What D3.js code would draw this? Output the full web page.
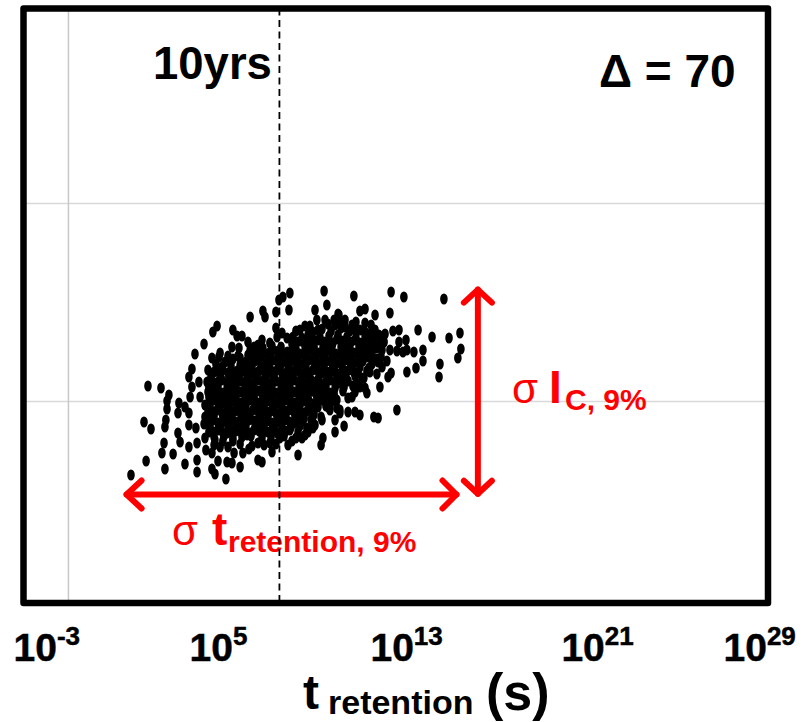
<!DOCTYPE html>
<html>
<head>
<meta charset="utf-8">
<script src="https://cdn.jsdelivr.net/npm/d3@7"></script>
<style>
  body { margin: 0; background: #fff; }
  svg { display: block; }
  text { font-family: "Liberation Sans", Arial, sans-serif; font-weight: bold; }
</style>
</head>
<body>
<div id="content"></div>
<script>
// log10(t_retention) of every cell
const logRetention = [
  1.62,2.35,2.91,3.25,3.17,3.17,2.18,2.48,3.12,3.08,
  3.04,2.95,2.27,3.08,3.43,3.94,4.46,4.46,4.46,4.41,
  4.11,3.64,3.73,4.11,3.68,3.64,3.94,4.11,4.16,4.24,
  4.11,4.24,4.54,4.59,4.37,4.76,5.14,5.32,5.10,4.93,
  5.45,5.96,6.26,6.00,6.18,6.39,6.74,7.29,7.38,7.85,
  7.98,8.15,8.45,8.41,6.65,6.65,6.00,5.10,5.23,5.70,
  5.36,5.75,5.96,6.31,5.10,4.84,7.08,7.25,7.68,8.37,
  8.80,6.43,6.69,6.05,9.92,11.20,12.80,13.35,15.07,10.04,
  9.53,11.46,11.68,12.11,12.75,10.56,11.29,11.68,11.94,12.88,
  13.14,13.96,14.56,15.29,15.76,15.80,15.67,14.90,14.86,14.17,
  14.17,13.87,13.48,13.78,13.44,13.14,13.05,13.31,13.48,12.75,
  12.41,12.28,12.54,12.62,12.41,12.80,12.67,12.19,12.32,11.76,
  13.05,12.24,12.06,11.46,11.25,10.95,10.47,10.60,10.78,10.39,
  10.39,9.87,9.79,9.79,9.44,9.23,8.97,10.09,10.47,11.12,
  11.46,11.68,8.71,9.10,9.31,9.61,10.52,10.35,10.82,8.33,
  7.08,7.59,7.90,8.11,7.85,6.74,6.31,6.61,4.89,
  9.44,9.83,10.22,10.65,11.03,11.46,11.89,
  7.25,8.54,8.93,9.31,9.70,10.09,10.47,10.86,11.25,11.63,12.02,12.41,
  5.79,7.00,7.34,7.72,8.11,8.50,8.88,9.27,9.66,10.04,10.43,10.82,11.20,11.59,11.98,12.37,
  5.27,5.66,6.31,6.56,6.95,7.34,7.72,8.11,8.50,8.88,9.27,9.66,10.04,10.43,10.82,11.20,11.59,11.98,
  5.19,5.57,5.96,6.35,6.74,7.12,7.51,7.90,8.28,8.67,9.06,9.44,9.83,10.22,10.60,10.99,11.38,11.76,
  5.14,5.53,5.92,6.31,6.69,7.08,7.47,7.85,8.24,8.63,9.01,9.40,9.79,10.17,10.56,10.95,11.33,
  4.93,5.32,5.70,6.09,6.48,6.86,7.25,7.64,8.02,8.41,8.80,9.19,9.57,9.96,10.35,10.73,
  4.80,5.19,5.57,5.96,6.35,6.74,7.12,7.51,7.90,8.28,8.67,9.06,9.44,9.83,10.22,
  4.93,5.32,5.70,6.09,6.48,6.86,7.25,7.64,8.02,8.41,8.80,9.19,9.49,
  4.76,5.14,5.53,5.92,6.31,6.69,7.08,7.47,7.85,8.24,8.63,9.01,9.36,
  4.97,5.36,5.75,6.13,6.52,6.91,7.29,7.68,8.07,8.45,8.80,
  4.80,5.23,5.57,6.00,6.61,7.08,7.59,8.02,8.54,5.45,5.79
];

// I_C of the same cells, arbitrary units (the axis has no labels)
const icValue = [
  64,108.5,107.5,104,101,97,90.5,87,91.5,88,
  80,75,71,67,74.5,69.5,65.5,71.5,80,87.5,
  89,85,80.5,78,100,95,98,95,103,108,
  113,117,110.5,103,124.5,129.5,135.5,138.5,122.5,116.5,
  125,128,127.5,136.5,133.5,133.5,143,146,143,145.5,
  151.5,153,155,146.5,130.5,124,122,67,64.5,62,
  71,70.5,70,68,75,76.5,71.5,70.5,75.5,79,
  74,75,77,75,156,153.5,155.5,153,152,149,
  146.5,146,147,144,145,144,140.5,140,139,136,
  136.5,136.5,133,132.5,135,127,122.5,119.5,113,126.5,
  121,117.5,115.5,125.5,131.5,130.5,126,125.5,126.5,126.5,
  126.5,134,134.5,121,118,115,113,114.5,108,105,
  96.5,92.5,93,94,95.5,95.5,97.5,95,88.5,85.5,
  91.5,82.5,93,79,87.5,85.5,82.5,98,101.5,103,
  108,107.5,136,138.5,138.5,141.5,144.5,141.5,141.5,132.5,
  129,130,133,135,137.5,126.5,119,116.5,110.5,
  135.5,137,136,137.5,136,136.5,134.5,
  131.5,129.5,131,130,131.5,130.5,132,130,131.5,130.5,132,130,
  123.5,125.5,125,126.5,125,126,124.5,126.5,125,126,124.5,126.5,125,126,124.5,123,
  119.5,120.5,122.5,120.5,121,120,121.5,120,121,119.5,121.5,120,121,119.5,121.5,120,121,119.5,
  115.5,116.5,115,115.5,114.5,116,115,116.5,115,116,114.5,116.5,115,116,114.5,116.5,115,116,
  110.5,111.5,110,111,110,111.5,110,111,110,111.5,110,111,109.5,111.5,110,111,109.5,
  105.5,106.5,105,106,105,106.5,105,106,105,106.5,105,106,104.5,106.5,105,106,
  99,101.5,100,101,100,101.5,100,101,100,101.5,100,101,99.5,101.5,100.5,
  95.5,96.5,95,96,95,96.5,95,96,95,96.5,95,96,94.5,
  89.5,91.5,90,91,90,91.5,90,91,90,91.5,90,91,91.5,
  85.5,86.5,85,86,85,86.5,85,86,85,86.5,85.5,
  82.5,81.5,81,81,84,80,80,82.5,81,78,78
];

// the solid middle of the cloud, where single cells can only be estimated
const denseRetention = [
  8.58,8.97,9.36,9.74,10.13,10.52,10.90,11.29,11.68,12.06,
  6.91,7.29,7.68,8.07,8.71,9.10,9.49,9.87,10.26,10.65,11.03,11.42,11.81,12.19,
  5.40,6.22,6.78,7.17,7.55,7.94,8.33,8.71,9.10,9.49,9.87,10.26,10.65,11.03,11.42,11.81,12.19,
  5.53,5.92,6.43,6.82,7.21,7.59,7.98,8.37,8.76,9.14,9.53,9.92,10.30,10.69,11.08,11.46,11.85,
  5.06,5.45,5.83,6.22,6.61,7.00,7.38,7.77,8.15,8.54,8.93,9.31,9.70,10.09,10.47,10.86,11.25,11.63,
  4.97,5.36,5.75,6.13,6.52,6.91,7.29,7.68,8.07,8.45,8.84,9.23,9.61,10.00,10.39,10.78,11.16,
  4.97,5.36,5.75,6.13,6.52,6.91,7.29,7.68,8.07,8.45,8.84,9.23,9.61,10.00,10.39,
  5.02,5.40,5.79,6.18,6.56,6.95,7.34,7.72,8.11,8.50,8.88,9.27,9.66,10.00,
  4.80,5.19,5.57,5.96,6.35,6.74,7.12,7.51,7.90,8.28,8.67,9.06,9.44,
  5.02,5.40,5.79,6.18,6.56,6.95,7.34,7.72,8.11,8.50,8.88,9.18,
  5.19,5.62,6.00,6.39,6.78,7.25,7.64,8.20,8.71,
  5.19,6.31,6.82,7.34,7.85
];

const denseIc = [
  133,132.5,134,133,133.5,134,133,132.5,133.5,133,
  128,127.5,128.5,128,127,128.5,128,127.5,128.5,128,127.5,128,128.5,127.5,
  123,123.5,122.5,123,123.5,122.5,123,123.5,122.5,123,123.5,122.5,123,123.5,122.5,123,122,
  118,118.5,117.5,118,118.5,117.5,118,118.5,117.5,118,118.5,117.5,118,118.5,117.5,118,117.5,
  113,113.5,112.5,113,113.5,112.5,113,113.5,112.5,113,113.5,112.5,113,113.5,112.5,113,113.5,112.5,
  108,108.5,107.5,108,108.5,107.5,108,108.5,107.5,108,108.5,107.5,108,108.5,107.5,108,108.5,
  103,103.5,102.5,103,103.5,102.5,103,103.5,102.5,103,103.5,102.5,103,103.5,102.5,
  98,98.5,97.5,98,98.5,97.5,98,98.5,97.5,98,98.5,97.5,98,98.5,
  93,93.5,92.5,93,93.5,92.5,93,93.5,92.5,93,93.5,92.5,93,
  88,88.5,87.5,88,88.5,87.5,88,88.5,87.5,88,88.5,87.5,
  83,83.5,82.5,83,83.5,82.5,83,83.5,82.5,
  79,79.5,78.5,79,79.5
];

const coreRetention = [
  8.76,9.14,9.53,9.92,10.30,10.69,11.08,11.46,11.85,
  7.17,7.55,7.94,8.33,8.71,9.10,9.49,9.87,10.26,10.65,11.03,11.42,11.81,
  5.88,6.78,7.17,7.55,7.94,8.33,8.71,9.10,9.49,9.87,10.26,10.65,11.03,11.42,
  5.40,5.79,6.18,6.56,6.95,7.34,7.72,8.11,8.50,8.88,9.27,9.66,10.04,10.43,10.82,11.20,
  5.36,5.75,6.13,6.52,6.91,7.29,7.68,8.07,8.45,8.84,9.23,9.61,10.00,10.39,10.78,
  5.14,5.53,5.92,6.31,6.69,7.08,7.47,7.85,8.24,8.63,9.01,9.40,9.79,10.17,
  5.02,5.40,5.79,6.18,6.56,6.95,7.34,7.72,8.11,8.50,8.88,9.27,9.66,
  5.14,5.53,5.92,6.31,6.69,7.08,7.47,7.85,8.24,8.63,9.01,
  4.97,5.36,5.75,6.13,6.52,6.91,7.29,7.68,8.07,8.45,8.84,
  5.19,5.57,5.96,6.35,6.74,7.12,7.51,7.90,8.28
];

const coreIc = [
  130.5,130,131,130.5,130,131,130.5,130,131,
  125.5,125,126,125.5,125,126,125.5,125,126,125.5,125,126,125.5,
  120.5,120,121,120.5,120,121,120.5,120,121,120.5,120,121,120.5,120,
  115.5,115,116,115.5,115,116,115.5,115,116,115.5,115,116,115.5,115,116,115.5,
  110.5,110,111,110.5,110,111,110.5,110,111,110.5,110,111,110.5,110,111,
  105.5,105,106,105.5,105,106,105.5,105,106,105.5,105,106,105.5,105,
  100.5,100,101,100.5,100,101,100.5,100,101,100.5,100,101,100.5,
  95.5,95,96,95.5,95,96,95.5,95,96,95.5,95,
  90.5,90,91,90.5,90,91,90.5,90,91,90.5,90,
  85.5,85,86,85.5,85,86,85.5,85,86
];

// upper and right edge of the solid part
const edgeRetention = [
  8.88,9.96,10.39,10.82,11.25,11.68,12.11,11.12,10.60,10.09,9.66,9.23,12.24,
  12.50,11.98,11.68,12.24,11.89,11.55,11.25,10.95,10.60,10.17,9.83,9.53,9.10
];

const edgeIc = [
  136.5,141.5,139,138,136.5,135.5,136.5,139,140.5,139.5,136.5,134,129,
  130.5,128,124,120.5,115.5,112.5,105.5,102.5,96.5,96.5,91.5,89,84
];

const xTickExp = [-3, 5, 13, 21, 29];
const xLabelNudge = [-10.5, -20.6, -25.8, -21, -45]; // the labels are not centred on their ticks
const xGridExp = [-1.09];
const yGridIc = [101, 200];
const tenYearsExp = 8;
const sigmaTRange = [1.43, 15.61];
const sigmaTLevel = 54.25;
const sigmaIcRange = [54.6, 156.7];
const sigmaIcAt = 16.53;

const width = 805;
const height = 722;
const plot = {left: 23.5, right: 768, top: 8.5, bottom: 603};

const svg = d3.select("#content")
  .append("svg")
  .attr("width", width)
  .attr("height", height);

const x = d3.scaleLinear().domain([-3, 29]).range([plot.left, plot.right]);
const y = d3.scaleLinear().domain([0, 297.25]).range([plot.bottom, plot.top]);

// grid
svg.append("g")
  .attr("transform", `translate(${plot.left},0)`)
  .call(d3.axisLeft(y).tickValues(yGridIc).tickSize(-(plot.right - plot.left)).tickFormat(""))
  .call(g => g.select(".domain").remove())
  .call(g => g.selectAll("line").attr("stroke", "#d9d9d9").attr("stroke-width", 1.5));

svg.append("g")
  .attr("transform", `translate(0,${plot.bottom})`)
  .call(d3.axisBottom(x).tickValues(xGridExp).tickSize(-(plot.bottom - plot.top)).tickFormat(""))
  .call(g => g.select(".domain").remove())
  .call(g => g.selectAll("line").attr("stroke", "#c8c8c8").attr("stroke-width", 1.5));

// cells
const allRetention = logRetention.concat(denseRetention, coreRetention, edgeRetention);
const allIc = icValue.concat(denseIc, coreIc, edgeIc);

svg.append("g")
  .selectAll("ellipse")
  .data(allRetention)
  .join("ellipse")
  .attr("cx", d => x(d))
  .attr("cy", (d, i) => y(allIc[i]))
  .attr("rx", 3.8)
  .attr("ry", 5.5)
  .attr("fill", "#000");

// red arrows
const red = "#ff0000";
const arrows = svg.append("g")
  .attr("fill", "none")
  .attr("stroke", red)
  .attr("stroke-width", 6)
  .attr("stroke-linecap", "round")
  .attr("stroke-linejoin", "round");

const tx0 = x(sigmaTRange[0]), tx1 = x(sigmaTRange[1]), ty = y(sigmaTLevel);
arrows.append("path").attr("d", d3.line()([[tx0, ty], [tx1, ty]]));
arrows.append("path").attr("d", d3.line()([[tx0 + 15, ty - 14], [tx0, ty], [tx0 + 15, ty + 14]]));
arrows.append("path").attr("d", d3.line()([[tx1 - 14, ty - 14], [tx1, ty], [tx1 - 14, ty + 14]]));

const ix = x(sigmaIcAt), iy0 = y(sigmaIcRange[0]), iy1 = y(sigmaIcRange[1]);
arrows.append("path").attr("d", d3.line()([[ix, iy0], [ix, iy1]]));
arrows.append("path").attr("d", d3.line()([[ix - 14, iy1 + 13], [ix, iy1], [ix + 14, iy1 + 13]]));
arrows.append("path").attr("d", d3.line()([[ix - 14, iy0 - 13], [ix, iy0], [ix + 14, iy0 - 13]]));

function addText(px, py, str, size, color, weight) {
  return svg.append("text")
    .attr("x", px)
    .attr("y", py)
    .attr("font-size", size)
    .attr("fill", color || "#000")
    .style("font-weight", weight || "bold")
    .text(str);
}

// red annotations
addText(172, 545, "σ", 42, red, "normal");
addText(212, 545, "t", 46, red);
addText(228, 552, "retention, 9%", 30, red);
addText(512, 403, "σ", 42, red, "normal");
addText(549, 403, "I", 46, red);
addText(565, 410, "C, 9%", 30, red);

// corner labels
addText(153, 79, "10yrs", 45.5);
addText(599, 87, "Δ = 70", 46);

// tick labels
const axisG = svg.append("g")
  .attr("transform", `translate(0,${plot.bottom})`)
  .call(d3.axisBottom(x).tickValues(xTickExp).tickSize(0).tickFormat(""));
axisG.select(".domain").remove();
axisG.selectAll(".tick text").remove();
axisG.selectAll(".tick").append("text")
  .attr("x", (d, i) => xLabelNudge[i])
  .attr("y", 58)
  .attr("text-anchor", "start")
  .attr("fill", "#000")
  .attr("font-size", 39)
  .attr("stroke", "#000")
  .attr("stroke-width", 0.5)
  .text("10")
  .append("tspan")
  .attr("font-size", 26)
  .attr("dy", -16)
  .text(d => d);

// axis title
addText(303, 709, "t", 48);
addText(328, 714, "retention", 34);
addText(486, 710, "(s)", 52);

// 10 year line on top
svg.append("line")
  .attr("x1", x(tenYearsExp)).attr("x2", x(tenYearsExp))
  .attr("y1", plot.top).attr("y2", plot.bottom)
  .attr("stroke", "#000")
  .attr("stroke-width", 1.8)
  .attr("stroke-dasharray", "7,4.5");

// frame
svg.append("rect")
  .attr("x", plot.left).attr("y", plot.top)
  .attr("width", plot.right - plot.left)
  .attr("height", plot.bottom - plot.top)
  .attr("fill", "none")
  .attr("stroke", "#000")
  .attr("stroke-width", 6.5)
  .attr("stroke-linejoin", "round");
</script>
</body>
</html>
